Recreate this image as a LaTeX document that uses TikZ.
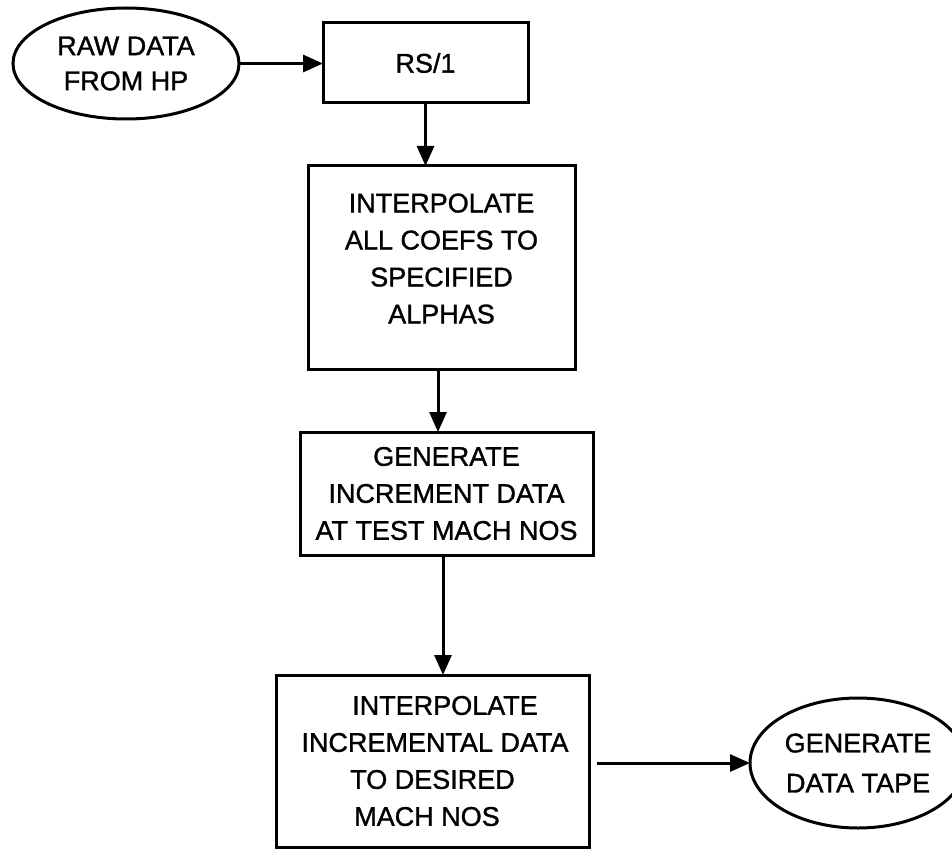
\documentclass[tikz,border=0pt]{standalone}
\usepackage{fontspec}
\setmainfont{Liberation Sans}[FakeBold=1.2]
\usetikzlibrary{arrows.meta,shapes.geometric}
\begin{document}
\begin{tikzpicture}[x=1pt,y=-1pt,
  every node/.style={inner sep=0pt, outer sep=0pt},
  stepbox/.style={draw, line width=3pt, rectangle, align=center,
    font=\fontsize{27}{37}\selectfont},
  terminal/.style={draw, line width=3pt, ellipse, align=center,
    font=\fontsize{27}{35}\selectfont},
  flow/.style={line width=3pt, -{Triangle[length=20pt,width=17pt]}}
]
\useasboundingbox (0,0) rectangle (952,850);

% start and end terminals
\node[terminal, minimum width=226pt, minimum height=111pt] (raw) at (126,63.5)
  {RAW DATA\\FROM HP};
\node[terminal, font=\fontsize{27}{40}\selectfont,
  minimum width=216pt, minimum height=130pt] (tape) at (858,763)
  {GENERATE\\DATA TAPE};

% processing steps
\node[stepbox, minimum width=205pt, minimum height=80pt] (rs) at (425.5,63) {RS/1};
\node[stepbox, minimum width=267pt, minimum height=203pt] (b2) at (441.5,267.5)
  {\raisebox{7pt}[\height][\depth]{\begin{tabular}{@{}c@{}}INTERPOLATE\\ALL COEFS TO\\SPECIFIED\\ALPHAS\end{tabular}}};
\node[stepbox, minimum width=293pt, minimum height=123pt] (b3) at (446.5,493.5)
  {GENERATE\\INCREMENT DATA\\AT TEST MACH NOS};
\node[stepbox, minimum width=313pt, minimum height=172pt] (b4) at (432.5,761)
  {\hspace*{25pt}INTERPOLATE\\\hspace*{5pt}INCREMENTAL DATA\\TO DESIRED\hspace*{13pt}\\MACH NOS\hspace*{11pt}};

% columns of the vertical connectors
\coordinate (x23) at (438,0);
\coordinate (x34) at (443,0);

% connectors
\draw[flow] (raw.east) -- (raw.east -| rs.west);
\draw[flow] (rs.south) -- (rs.south |- b2.north);
\draw[flow] (x23 |- b2.south) -- (x23 |- b3.north);
\draw[flow] (x34 |- b3.south) -- (x34 |- b4.north);
\draw[flow, shorten <=8pt] (b4.east |- tape.west) -- (tape.west);
\end{tikzpicture}
\end{document}
